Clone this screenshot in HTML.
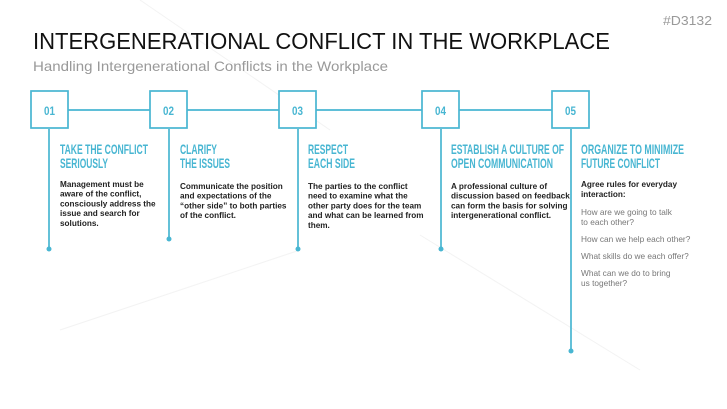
<!DOCTYPE html>
<html><head><meta charset="utf-8"><style>
html,body{margin:0;padding:0;background:#fff;}
svg{display:block;}
text{font-family:"Liberation Sans",sans-serif;}
.t{fill:#48b6d2;font-weight:bold;font-size:14px;}
.b{fill:#222;font-weight:bold;font-size:8.2px;}
.g{fill:#777;font-size:8.3px;}
.n{fill:#48b6d2;font-weight:bold;font-size:12px;}
</style></head><body>
<svg width="727" height="409" viewBox="0 0 727 409" xmlns="http://www.w3.org/2000/svg">
<g stroke="#f3f3f3" stroke-width="1" fill="none">
<line x1="140" y1="0" x2="330" y2="130"/>
<line x1="60" y1="330" x2="300" y2="250"/>
<line x1="420" y1="235" x2="640" y2="370"/>
</g>
<text x="663" y="25" font-size="13" fill="#999" textLength="49" lengthAdjust="spacingAndGlyphs">#D3132</text>
<text x="33" y="49" font-size="23" fill="#111" textLength="577" lengthAdjust="spacingAndGlyphs">INTERGENERATIONAL CONFLICT IN THE WORKPLACE</text>
<text x="33" y="71" font-size="14" fill="#999" textLength="355" lengthAdjust="spacingAndGlyphs">Handling Intergenerational Conflicts in the Workplace</text>

<g stroke="#48b6d2" stroke-width="1.7" fill="#fff">
<line x1="68" y1="110" x2="552" y2="110"/>
<line x1="49" y1="129" x2="49" y2="249"/>
<line x1="169" y1="129" x2="169" y2="239"/>
<line x1="298" y1="129" x2="298" y2="249"/>
<line x1="441" y1="129" x2="441" y2="249"/>
<line x1="571" y1="129" x2="571" y2="351"/>
<rect x="31" y="91" width="37" height="37"/>
<rect x="150" y="91" width="37" height="37"/>
<rect x="279" y="91" width="37" height="37"/>
<rect x="422" y="91" width="37" height="37"/>
<rect x="552" y="91" width="37" height="37"/>
</g>
<g fill="#48b6d2">
<circle cx="49" cy="249" r="2.5"/><circle cx="169" cy="239" r="2.5"/><circle cx="298" cy="249" r="2.5"/><circle cx="441" cy="249" r="2.5"/><circle cx="571" cy="351" r="2.5"/>
</g>
<text class="n" x="49.5" y="115" text-anchor="middle" textLength="11" lengthAdjust="spacingAndGlyphs">01</text>
<text class="n" x="168.5" y="115" text-anchor="middle" textLength="11" lengthAdjust="spacingAndGlyphs">02</text>
<text class="n" x="297.5" y="115" text-anchor="middle" textLength="11" lengthAdjust="spacingAndGlyphs">03</text>
<text class="n" x="440.5" y="115" text-anchor="middle" textLength="11" lengthAdjust="spacingAndGlyphs">04</text>
<text class="n" x="570.5" y="115" text-anchor="middle" textLength="11" lengthAdjust="spacingAndGlyphs">05</text>

<text class="t" x="60" y="154" textLength="88" lengthAdjust="spacingAndGlyphs">TAKE THE CONFLICT</text>
<text class="t" x="60" y="168" textLength="48" lengthAdjust="spacingAndGlyphs">SERIOUSLY</text>
<text class="t" x="180" y="154" textLength="37" lengthAdjust="spacingAndGlyphs">CLARIFY</text>
<text class="t" x="180" y="168" textLength="50" lengthAdjust="spacingAndGlyphs">THE ISSUES</text>
<text class="t" x="308" y="154" textLength="40" lengthAdjust="spacingAndGlyphs">RESPECT</text>
<text class="t" x="308" y="168" textLength="47" lengthAdjust="spacingAndGlyphs">EACH SIDE</text>
<text class="t" x="451" y="154" textLength="113" lengthAdjust="spacingAndGlyphs">ESTABLISH A CULTURE OF</text>
<text class="t" x="451" y="168" textLength="102" lengthAdjust="spacingAndGlyphs">OPEN COMMUNICATION</text>
<text class="t" x="581" y="154" textLength="103" lengthAdjust="spacingAndGlyphs">ORGANIZE TO MINIMIZE</text>
<text class="t" x="581" y="168" textLength="79" lengthAdjust="spacingAndGlyphs">FUTURE CONFLICT</text>

<text class="b" x="60" y="187">Management must be</text>
<text class="b" x="60" y="196.7">aware of the conflict,</text>
<text class="b" x="60" y="206.4">consciously address the</text>
<text class="b" x="60" y="216.1">issue and search for</text>
<text class="b" x="60" y="225.8">solutions.</text>

<text class="b" x="180" y="189">Communicate the position</text>
<text class="b" x="180" y="198.7">and expectations of the</text>
<text class="b" x="180" y="208.4">“other side” to both parties</text>
<text class="b" x="180" y="218.1">of the conflict.</text>

<text class="b" x="308" y="189">The parties to the conflict</text>
<text class="b" x="308" y="198.7">need to examine what the</text>
<text class="b" x="308" y="208.4">other party does for the team</text>
<text class="b" x="308" y="218.1">and what can be learned from</text>
<text class="b" x="308" y="227.8">them.</text>

<text class="b" x="451" y="189">A professional culture of</text>
<text class="b" x="451" y="198.7">discussion based on feedback</text>
<text class="b" x="451" y="208.4">can form the basis for solving</text>
<text class="b" x="451" y="218.1">intergenerational conflict.</text>

<text class="b" x="581" y="187">Agree rules for everyday</text>
<text class="b" x="581" y="197">interaction:</text>
<text class="g" x="581" y="215">How are we going to talk</text>
<text class="g" x="581" y="225">to each other?</text>
<text class="g" x="581" y="242">How can we help each other?</text>
<text class="g" x="581" y="259">What skills do we each offer?</text>
<text class="g" x="581" y="276">What can we do to bring</text>
<text class="g" x="581" y="286">us together?</text>
</svg>
</body></html>
